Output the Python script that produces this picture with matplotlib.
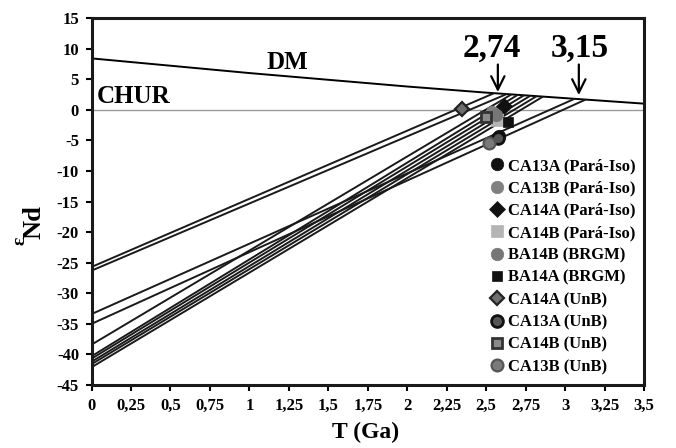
import numpy as np
import matplotlib
matplotlib.use('Agg')
import matplotlib.pyplot as plt
from matplotlib.lines import Line2D

plt.rcParams['font.family'] = ['Liberation Serif', 'DejaVu Serif']
plt.rcParams['font.weight'] = 'bold'
plt.rcParams['axes.unicode_minus'] = False

# --- data ---
x_ticks = [0, 0.25, 0.5, 0.75, 1, 1.25, 1.5, 1.75, 2, 2.25, 2.5, 2.75, 3, 3.25, 3.5]
x_tick_labels = ['0', '0,25', '0,5', '0,75', '1', '1,25', '1,5', '1,75', '2',
                 '2,25', '2,5', '2,75', '3', '3,25', '3,5']
y_ticks = [-45, -40, -35, -30, -25, -20, -15, -10, -5, 0, 5, 10, 15]

# depleted mantle curve
dm_t = [0, 0.5, 1, 1.5, 2, 2.5, 3, 3.5]
dm_eps = [8.4, 7.2, 6.0, 4.9, 3.8, 2.8, 1.9, 1.0]

# model-age lines: present-day eNd and T where they meet DM
line_eps0 = [-25.7, -26.3, -33.4, -35.0, -38.4, -40.3, -40.7, -41.2, -41.6, -42.1]
line_tdm = [2.55, 2.63, 3.06, 3.13, 2.66, 2.70, 2.74, 2.78, 2.82, 2.86]

# samples at crystallisation age
samples = ['CA13A (Pará-Iso)', 'CA13B (Pará-Iso)', 'CA14A (Pará-Iso)', 'CA14B (Pará-Iso)',
           'BA14B (BRGM)', 'BA14A (BRGM)', 'CA14A (UnB)', 'CA13A (UnB)',
           'CA14B (UnB)', 'CA13B (UnB)']
sample_t = [2.58, 2.54, 2.61, 2.57, 2.56, 2.64, 2.35, 2.575, 2.50, 2.52]
sample_eps = [-4.3, -0.4, 0.6, -1.6, -0.8, -2.0, 0.1, -4.6, -1.2, -5.5]

# marker styles per sample: marker, face, edge, edge width, size
styles = [
    ('o', '#111111', '#111111', 0.5, 9),
    ('o', '#808080', '#808080', 0.5, 9),
    ('D', '#111111', '#111111', 0.5, 8),
    ('s', '#b4b4b4', '#b4b4b4', 0.5, 8.5),
    ('o', '#767676', '#767676', 0.5, 9),
    ('s', '#111111', '#111111', 0.5, 7),
    ('D', '#6e6e6e', '#222222', 1.6, 7.5),
    ('o', '#555555', '#111111', 2.0, 8.5),
    ('s', '#8a8a8a', '#333333', 2.0, 7.5),
    ('o', '#7a7a7a', '#555555', 1.6, 8.5),
]

# annotated model ages: label, arrow x, arrow tip y
ann_labels = ['2,74', '3,15']
ann_x = [2.574, 3.087]
ann_tip = [2.9, 2.4]
ann_text_x = [2.533, 3.09]

# ── figure ──
fig = plt.figure(figsize=(6.76, 4.48), dpi=100, facecolor='white')
ax = fig.add_axes([0.1354, 0.1406, 0.8173, 0.8192])

ax.set_xlim(0, 3.5)
ax.set_ylim(-45, 15)

ax.axhline(0, color='#9a9a9a', lw=1.0, zorder=1)
ax.plot(dm_t, dm_eps, color='black', lw=1.4, zorder=2)

for e0, td in zip(line_eps0, line_tdm):
    e1 = np.interp(td, dm_t, dm_eps)
    ax.plot([0, td], [e0, e1], color='#1a1a1a', lw=1.4, zorder=2,
            solid_capstyle='butt')

handles = []
for name, t, e, (mk, fc, ec, ew, ms) in zip(samples, sample_t, sample_eps, styles):
    ax.plot([t], [e], marker=mk, ms=ms, mfc=fc, mec=ec, mew=ew,
            ls='none', zorder=4)
    handles.append(Line2D([], [], marker=mk, ms=ms, mfc=fc, mec=ec, mew=ew,
                          ls='none', label=name))

for lab, xa, tip, xt in zip(ann_labels, ann_x, ann_tip, ann_text_x):
    ax.annotate('', xy=(xa, tip), xytext=(xa, 7.4),
                arrowprops=dict(arrowstyle='->', lw=1.6, color='black',
                                mutation_scale=24, shrinkA=0, shrinkB=0))
    ax.text(xt, 8.7, lab, fontsize=24, fontweight='bold', ha='center',
            va='baseline')

ax.text(0.035, 2.1, 'CHUR', fontsize=18, fontweight='bold', va='center', ha='left')
ax.text(1.24, 7.7, 'DM', fontsize=18, fontweight='bold', va='center', ha='center')

leg = ax.legend(handles=handles, loc='upper left', bbox_to_anchor=(0.72, 0.618),
                frameon=False, fontsize=12, handlelength=0.9,
                handletextpad=0.25, labelspacing=0.38, borderaxespad=0,
                borderpad=0)

ax.set_xticks(x_ticks)
ax.set_xticklabels(x_tick_labels)
ax.set_yticks(y_ticks)
ax.tick_params(axis='both', direction='out', length=4, width=1.5,
               labelsize=12, pad=5)
for lbl in ax.get_xticklabels() + ax.get_yticklabels():
    lbl.set_fontweight('bold')

for sp in ax.spines.values():
    sp.set_linewidth(2.2)
    sp.set_color('#1a1a1a')

fig.text(366 / 676, 1 - 432 / 448, 'T (Ga)', fontsize=17, fontweight='bold',
         ha='center', va='center')
fig.text(20 / 676, 1 - 241 / 448, 'ε', fontsize=14, rotation=90,
         ha='center', va='center')
fig.text(34 / 676, 1 - 222 / 448, 'Nd', fontsize=19, fontweight='bold',
         rotation=90, ha='center', va='center')

fig.savefig('out.png', dpi=100)
